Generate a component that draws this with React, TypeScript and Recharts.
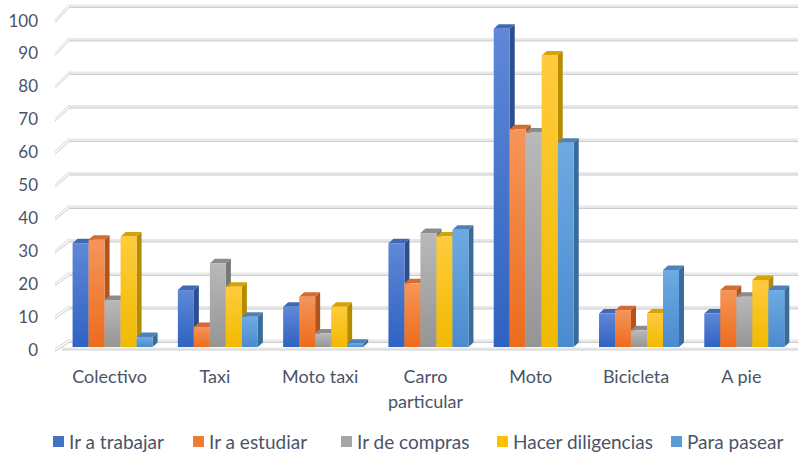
import React from 'react';
import { BarChart, Bar, XAxis, YAxis, CartesianGrid, Legend } from 'recharts';

const categories = ['Colectivo', 'Taxi', 'Moto taxi', 'Carro particular', 'Moto', 'Bicicleta', 'A pie'];
const seriesNames = ['Ir a trabajar', 'Ir a estudiar', 'Ir de compras', 'Hacer diligencias', 'Para pasear'];
const irTrabajar = [31, 17, 12, 31, 95, 10, 10];
const irEstudiar = [32, 6, 15, 19, 65, 11, 17];
const irCompras = [14, 25, 4, 34, 64, 5, 15];
const hacerDiligencias = [33, 18, 12, 33, 87, 10, 20];
const paraPasear = [3, 9, 1, 35, 61, 23, 17];
const yTicks = [0, 10, 20, 30, 40, 50, 60, 70, 80, 90, 100];

const seriesValues = [irTrabajar, irEstudiar, irCompras, hacerDiligencias, paraPasear];
const keys = ['s0', 's1', 's2', 's3', 's4'];

const data = categories.map((c, i) => {
  const row: any = { name: c };
  seriesValues.forEach((vals, k) => {
    row[keys[k]] = vals[i];
  });
  return row;
});

const palette = [
  { legend: '#4472C4', light: '#5f88d6', dark: '#2f62c2', side: '#2d4e8e', top: '#4068b4' },
  { legend: '#ED7D31', light: '#f6955a', dark: '#ec6c1c', side: '#b3541c', top: '#d46b30' },
  { legend: '#A5A5A5', light: '#b9b9b9', dark: '#959595', side: '#777777', top: '#8c8c8c' },
  { legend: '#FFC000', light: '#ffcb3d', dark: '#f1ba00', side: '#b58c00', top: '#d6a300' },
  { legend: '#5B9BD5', light: '#6eaae2', dark: '#4a8bcf', side: '#386c9c', top: '#4c82b8' },
];
const legendItemWidths = [140, 148, 156, 174, 120];

const FONT = 'Lato, "Open Sans", sans-serif';
const TEXT = '#4a5468';
const PLOT_TOP = 12;
const PLOT_BOTTOM = 347;
const PLOT_H = PLOT_BOTTOM - PLOT_TOP;
const DX = 5;
const DY = 4.5;

function makeShape(i: number) {
  return (props: any) => {
    const { x, y, width: w, height: h } = props;
    if (w == null || h == null) return <g />;
    const c = palette[i];
    return (
      <g>
        <polygon
          points={`${x + w},${y} ${x + w + DX},${y - DY} ${x + w + DX},${y + h - DY} ${x + w},${y + h}`}
          fill={c.side}
        />
        <polygon points={`${x},${y} ${x + DX},${y - DY} ${x + w + DX},${y - DY} ${x + w},${y}`} fill={c.top} />
        <rect x={x} y={y} width={w} height={h} fill={`url(#grad${i})`} />
      </g>
    );
  };
}

const GridLine = (p: any) => {
  const y = p.y1;
  const v = ((PLOT_BOTTOM - y) / PLOT_H) * 100;
  const yb = y - 6;
  const yf = y + 2 + 0.06 * v;
  const x2 = p.x2;
  return (
    <g key={p.key}>
      <rect x={69} y={yb - 1.5} width={x2 - 69} height={3} fill="#e8e8e8" />
      <line x1={69} y1={yb + 1.5} x2={x2} y2={yb + 1.5} stroke="#cdcdcd" strokeWidth={1} />
      <line x1={55} y1={yf} x2={69} y2={yb - 1.5} stroke="#d6d6d6" strokeWidth={1} />
      <line x1={55} y1={yf + 2.5} x2={69} y2={yb + 1.5} stroke="#cacaca" strokeWidth={1} />
      {v < 1 ? (
        <g>
          <rect x={62} y={y + 0.5} width={x2 - 62} height={2.5} fill="#e8e8e8" />
          <line x1={62} y1={y + 3} x2={x2} y2={y + 3} stroke="#d2d2d2" strokeWidth={1} />
        </g>
      ) : null}
    </g>
  );
};

const YTick = (p: any) => {
  const v = p.payload.value;
  const ly = p.y + 2 + 0.06 * v;
  return (
    <text x={38} y={ly} textAnchor="end" dominantBaseline="central" fontFamily={FONT} fontSize={17} fill={TEXT}>
      {v}
    </text>
  );
};

const XTick = (p: any) => {
  const label: string = p.payload.value;
  const lines = label.length > 12 ? [label.slice(0, label.indexOf(' ')), label.slice(label.indexOf(' ') + 1)] : [label];
  return (
    <text
      x={p.x - 4}
      y={PLOT_BOTTOM + 29}
      textAnchor="middle"
      dominantBaseline="central"
      fontFamily={FONT}
      fontSize={18}
      fill={TEXT}
    >
      {lines.map((l, i) => (
        <tspan key={i} x={p.x - 4} dy={i === 0 ? 0 : 25}>
          {l}
        </tspan>
      ))}
    </text>
  );
};

const LegendContent = () => (
  <div
    style={{
      height: 52,
      width: 800,
      boxSizing: 'border-box',
      paddingTop: 16,
      paddingLeft: 53,
      display: 'flex',
      alignItems: 'center',
      fontFamily: FONT,
      fontSize: 19,
      color: TEXT,
      whiteSpace: 'nowrap',
    }}
  >
    {seriesNames.map((n, i) => (
      <div key={n} style={{ display: 'flex', alignItems: 'center', width: legendItemWidths[i], flex: 'none' }}>
        <span style={{ display: 'inline-block', width: 11, height: 11, background: palette[i].legend, marginRight: 5 }} />
        <span>{n}</span>
      </div>
    ))}
  </div>
);

export default function App() {
  return (
    <div style={{ position: 'absolute', left: 0, top: 0, width: 800, height: 459, background: '#fff' }}>
      <BarChart
        width={800}
        height={459}
        data={data}
        margin={{ top: PLOT_TOP, right: 2, left: 0, bottom: 0 }}
        barCategoryGap="11%"
        barGap={0}
      >
        <defs>
          {palette.map((c, i) => (
            <linearGradient key={i} id={`grad${i}`} x1="0" y1="0" x2="0" y2="1">
              <stop offset="0%" stopColor={c.light} />
              <stop offset="100%" stopColor={c.dark} />
            </linearGradient>
          ))}
        </defs>
        <CartesianGrid vertical={false} horizontal={(p: any) => <GridLine {...p} />} />
        <XAxis dataKey="name" axisLine={false} tickLine={false} height={60} interval={0} tick={<XTick />} />
        <YAxis
          domain={[0, 100]}
          ticks={yTicks}
          width={61}
          axisLine={false}
          tickLine={false}
          interval={0}
          tick={<YTick />}
        />
        {keys.map((k, i) => (
          <Bar key={k} dataKey={k} name={seriesNames[i]} isAnimationActive={false} shape={makeShape(i)} />
        ))}
        <Legend verticalAlign="bottom" content={<LegendContent />} wrapperStyle={{ left: 0, width: 800 }} />
      </BarChart>
    </div>
  );
}
